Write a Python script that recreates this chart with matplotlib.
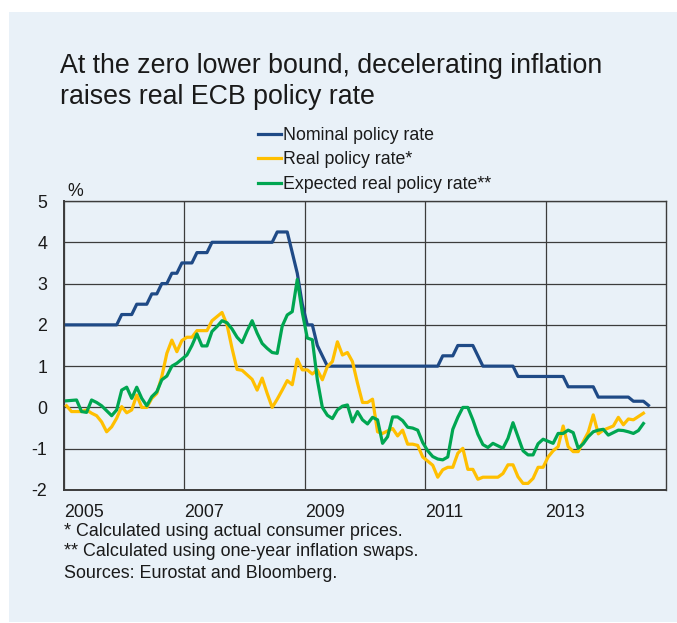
import matplotlib
matplotlib.use("Agg")
import matplotlib.pyplot as plt
from matplotlib.patches import Rectangle
import numpy as np

plt.rcParams['font.family'] = ['Liberation Sans', 'DejaVu Sans']

# monthly data, Jan 2005 onwards (per cent)
nominal = [
    2.0, 2.0, 2.0, 2.0, 2.0, 2.0, 2.0, 2.0, 2.0, 2.0, 2.0, 2.25,           # 2005
    2.25, 2.25, 2.5, 2.5, 2.5, 2.75, 2.75, 3.0, 3.0, 3.25, 3.25, 3.5,      # 2006
    3.5, 3.5, 3.75, 3.75, 3.75, 4.0, 4.0, 4.0, 4.0, 4.0, 4.0, 4.0,         # 2007
    4.0, 4.0, 4.0, 4.0, 4.0, 4.0, 4.25, 4.25, 4.25, 3.75, 3.25, 2.5,       # 2008
    2.0, 2.0, 1.5, 1.25, 1.0, 1.0, 1.0, 1.0, 1.0, 1.0, 1.0, 1.0,           # 2009
    1.0, 1.0, 1.0, 1.0, 1.0, 1.0, 1.0, 1.0, 1.0, 1.0, 1.0, 1.0,            # 2010
    1.0, 1.0, 1.0, 1.25, 1.25, 1.25, 1.5, 1.5, 1.5, 1.5, 1.25, 1.0,        # 2011
    1.0, 1.0, 1.0, 1.0, 1.0, 1.0, 0.75, 0.75, 0.75, 0.75, 0.75, 0.75,      # 2012
    0.75, 0.75, 0.75, 0.75, 0.5, 0.5, 0.5, 0.5, 0.5, 0.5, 0.25, 0.25,      # 2013
    0.25, 0.25, 0.25, 0.25, 0.25, 0.15, 0.15, 0.15, 0.05,                  # 2014
]
real = [
    0.04, -0.1, -0.1, -0.1, -0.06, -0.14, -0.2, -0.35, -0.59, -0.47, -0.26, 0.02,
    -0.13, -0.06, 0.3, 0.0, 0.0, 0.22, 0.34, 0.75, 1.31, 1.63, 1.35, 1.62,
    1.7, 1.7, 1.86, 1.86, 1.86, 2.1, 2.2, 2.3, 2.0, 1.43, 0.92, 0.9,
    0.79, 0.68, 0.42, 0.71, 0.34, 0.0, 0.2, 0.42, 0.65, 0.55, 1.17, 0.91,
    0.91, 0.81, 0.91, 0.67, 0.99, 1.11, 1.59, 1.27, 1.33, 1.11, 0.59, 0.12,
    0.12, 0.2, -0.59, -0.63, -0.57, -0.51, -0.69, -0.55, -0.89, -0.89, -0.92, -1.2,
    -1.3, -1.4, -1.69, -1.51, -1.45, -1.45, -1.11, -0.99, -1.5, -1.5, -1.74, -1.69,
    -1.69, -1.69, -1.69, -1.6, -1.39, -1.39, -1.68, -1.84, -1.84, -1.72, -1.45, -1.45,
    -1.2, -1.05, -0.95, -0.45, -0.95, -1.07, -1.07, -0.83, -0.6, -0.18, -0.64, -0.55,
    -0.5, -0.45, -0.24, -0.42, -0.28, -0.3, -0.22, -0.14,
]
expected = [
    0.16, 0.17, 0.18, -0.1, -0.12, 0.18, 0.12, 0.04, -0.08, -0.2, -0.06, 0.42,
    0.49, 0.22, 0.49, 0.22, 0.04, 0.26, 0.38, 0.67, 0.76, 1.0, 1.07, 1.17,
    1.27, 1.5, 1.78, 1.49, 1.49, 1.84, 1.96, 2.1, 2.05, 1.9, 1.7, 1.57,
    1.85, 2.1, 1.8, 1.55, 1.43, 1.33, 1.31, 1.97, 2.24, 2.32, 3.1, 2.3,
    1.68, 1.64, 0.67, 0.0, -0.19, -0.27, -0.06, 0.03, 0.06, -0.35, -0.1, -0.3,
    -0.4, -0.24, -0.3, -0.87, -0.71, -0.23, -0.23, -0.32, -0.48, -0.5, -0.55, -0.85,
    -1.05, -1.19, -1.25, -1.27, -1.2, -0.53, -0.24, 0.0, 0.0, -0.3, -0.65, -0.9,
    -0.97, -0.87, -0.93, -0.99, -0.75, -0.37, -0.71, -1.05, -1.15, -1.15, -0.88, -0.77,
    -0.82, -0.87, -0.63, -0.63, -0.55, -0.61, -0.99, -0.88, -0.71, -0.59, -0.55, -0.53,
    -0.67, -0.61, -0.55, -0.56, -0.59, -0.63, -0.56, -0.39,
]
series_labels = ["Nominal policy rate", "Real policy rate*", "Expected real policy rate**"]
year_ticks = [2005, 2007, 2009, 2011, 2013]
y_ticks = [5, 4, 3, 2, 1, 0, -1, -2]

BG = '#E9F1F8'
NAVY = '#1F4A86'
YELLOW = '#FFBF00'
GREEN = '#00A651'
GRID = '#3C3C3C'
TXT = '#1a1a1a'

W, H = 677, 623
fig = plt.figure(figsize=(W / 100, H / 100), dpi=100)
fig.patch.set_facecolor('white')
fig.patches.append(Rectangle((9 / W, 1 - 622 / H), 1, (622 - 12) / H,
                             transform=fig.transFigure, facecolor=BG, edgecolor='none', zorder=-10))

ax = fig.add_axes([64 / W, 1 - 490 / H, (666 - 64) / W, (490 - 201) / H])
ax.set_facecolor(BG)


def month_x(n):
    # mid-month positions in fractional years
    return 2005 + (np.arange(n) + 0.5) / 12


l1, = ax.plot(month_x(len(nominal)), nominal, color=NAVY, lw=2.3, zorder=3)
l2, = ax.plot(month_x(len(real)), real, color=YELLOW, lw=2.3, zorder=4)
l3, = ax.plot(month_x(len(expected)), expected, color=GREEN, lw=2.3, zorder=5)

ax.set_xlim(2005, 2015)
ax.set_ylim(-2, 5)
ax.set_yticks(y_ticks)
ax.set_yticklabels([str(v) for v in y_ticks])
ax.set_xticks(year_ticks)
ax.set_xticklabels([str(y) for y in year_ticks], ha='left')
ax.tick_params(axis='both', length=0, labelsize=12.8, colors=TXT)
ax.tick_params(axis='y', pad=12)
ax.tick_params(axis='x', pad=10)
ax.grid(True, color=GRID, lw=0.9)
ax.set_axisbelow(True)
for s in ax.spines.values():
    s.set_color(GRID)
    s.set_linewidth(1.0)
ax.spines['left'].set_linewidth(1.4)
ax.spines['bottom'].set_linewidth(1.4)

fig.text(67 / W, 1 - 192 / H, '%', fontsize=12.8, va='center', ha='left', color=TXT)

fig.text(60 / W, 1 - 66 / H, 'At the zero lower bound, decelerating inflation',
         fontsize=19.3, va='center', ha='left', color=TXT)
fig.text(60 / W, 1 - 97 / H, 'raises real ECB policy rate',
         fontsize=19.3, va='center', ha='left', color=TXT)

fig.legend([l1, l2, l3], series_labels, loc='upper left',
           bbox_to_anchor=(258 / W, 1 - 127 / H), frameon=False, fontsize=12.8,
           handlelength=1.3, handletextpad=0.1, labelspacing=0.42,
           borderpad=0, borderaxespad=0, labelcolor=TXT)

notes = ["* Calculated using actual consumer prices.",
         "** Calculated using one-year inflation swaps.",
         "Sources: Eurostat and Bloomberg."]
for i, t in enumerate(notes):
    fig.text(64 / W, 1 - (531 + 21 * i) / H, t, fontsize=12.9, va='center', ha='left', color=TXT)

fig.savefig('out.png', dpi=100, facecolor=fig.get_facecolor())
